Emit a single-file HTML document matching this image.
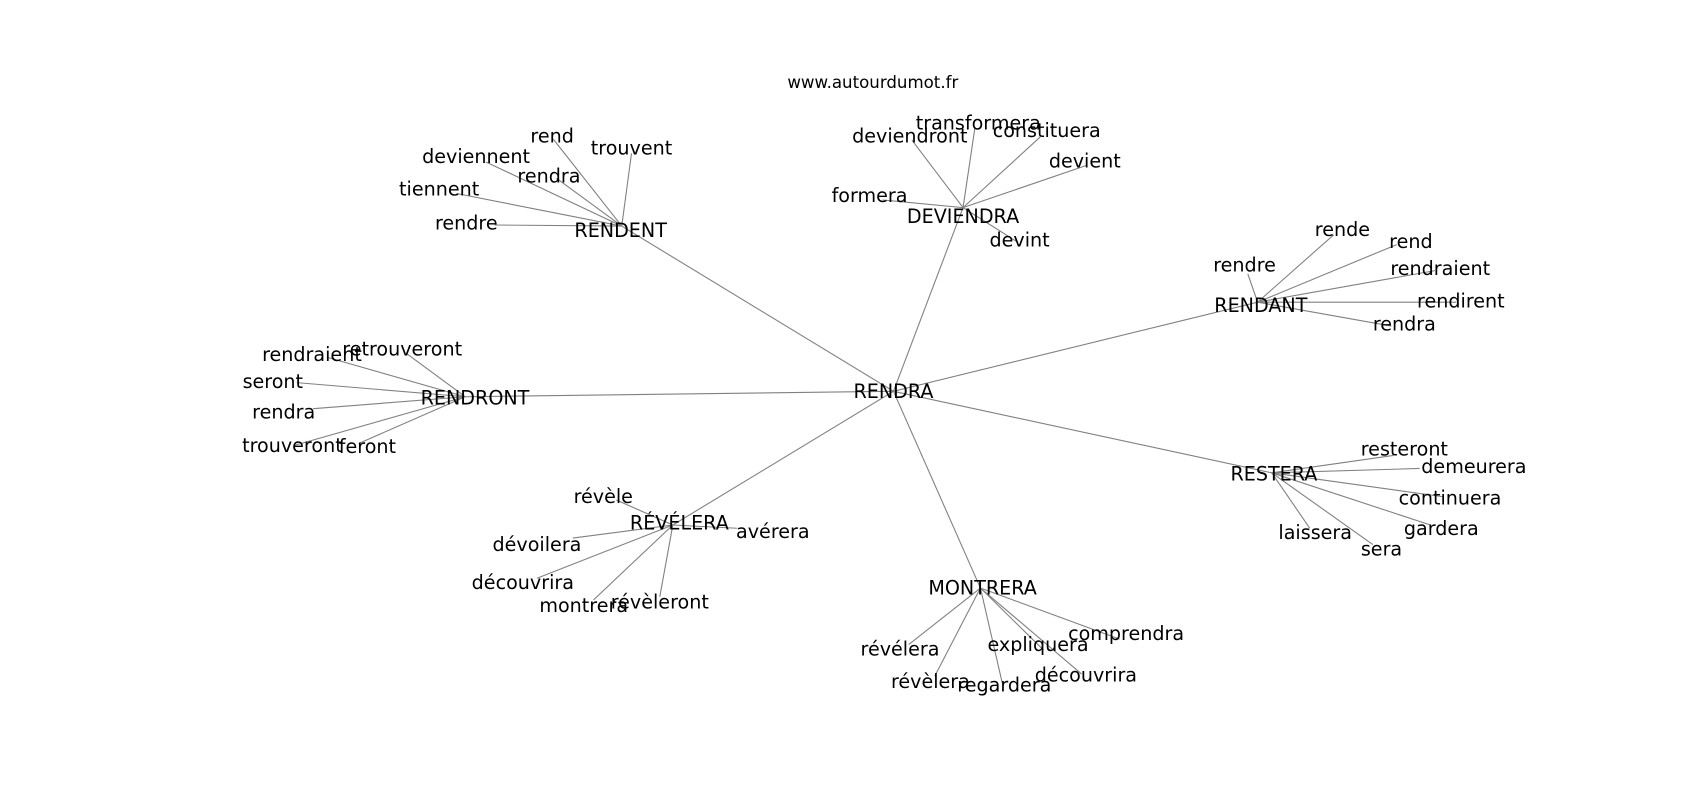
<!DOCTYPE html>
<html><head><meta charset="utf-8"><style>
html,body{margin:0;padding:0;background:#fff;width:1700px;height:800px;overflow:hidden}
svg{display:block}
text{font-family:"DejaVu Sans","Liberation Sans",sans-serif;fill:#000;text-anchor:middle;dominant-baseline:central}
line{stroke:#808080;stroke-width:1}
</style></head><body>
<svg width="1700" height="800" viewBox="0 0 1564 736" preserveAspectRatio="none">
<g>
<line x1="822" y1="360" x2="572" y2="208"/>
<line x1="822" y1="360" x2="886" y2="191"/>
<line x1="822" y1="360" x2="1157" y2="278"/>
<line x1="822" y1="360" x2="428" y2="365"/>
<line x1="822" y1="360" x2="619" y2="483"/>
<line x1="822" y1="360" x2="902" y2="541"/>
<line x1="822" y1="360" x2="1170" y2="435"/>
<line x1="572" y1="208" x2="509" y2="128"/>
<line x1="572" y1="208" x2="581" y2="141"/>
<line x1="572" y1="208" x2="447" y2="149"/>
<line x1="572" y1="208" x2="512" y2="164"/>
<line x1="572" y1="208" x2="420" y2="178"/>
<line x1="572" y1="208" x2="455" y2="207"/>
<line x1="886" y1="191" x2="839" y2="129"/>
<line x1="886" y1="191" x2="897" y2="117"/>
<line x1="886" y1="191" x2="957" y2="126"/>
<line x1="886" y1="191" x2="1000" y2="152"/>
<line x1="886" y1="191" x2="812" y2="184"/>
<line x1="886" y1="191" x2="935" y2="222"/>
<line x1="1157" y1="278" x2="1227" y2="216"/>
<line x1="1157" y1="278" x2="1285" y2="225"/>
<line x1="1157" y1="278" x2="1148" y2="252"/>
<line x1="1157" y1="278" x2="1320" y2="249"/>
<line x1="1157" y1="278" x2="1340" y2="278"/>
<line x1="1157" y1="278" x2="1280" y2="300"/>
<line x1="428" y1="365" x2="375" y2="326"/>
<line x1="428" y1="365" x2="302" y2="329"/>
<line x1="428" y1="365" x2="273" y2="352"/>
<line x1="428" y1="365" x2="288" y2="376"/>
<line x1="428" y1="365" x2="270" y2="410"/>
<line x1="428" y1="365" x2="330" y2="408"/>
<line x1="619" y1="483" x2="567" y2="460"/>
<line x1="619" y1="483" x2="678" y2="486"/>
<line x1="619" y1="483" x2="527" y2="495"/>
<line x1="619" y1="483" x2="494" y2="532"/>
<line x1="619" y1="483" x2="546" y2="552"/>
<line x1="619" y1="483" x2="607" y2="549"/>
<line x1="902" y1="541" x2="836" y2="593"/>
<line x1="902" y1="541" x2="860" y2="622"/>
<line x1="902" y1="541" x2="922" y2="628"/>
<line x1="902" y1="541" x2="960" y2="598"/>
<line x1="902" y1="541" x2="995" y2="620"/>
<line x1="902" y1="541" x2="1030" y2="588"/>
<line x1="1170" y1="435" x2="1282" y2="419"/>
<line x1="1170" y1="435" x2="1306" y2="431"/>
<line x1="1170" y1="435" x2="1328" y2="457"/>
<line x1="1170" y1="435" x2="1316" y2="483"/>
<line x1="1170" y1="435" x2="1263" y2="501"/>
<line x1="1170" y1="435" x2="1205" y2="486"/>
</g>
<g font-size="17.6">
<text x="822" y="360">RENDRA</text>
<text x="571" y="212">RENDENT</text>
<text x="886" y="199">DEVIENDRA</text>
<text x="1160" y="281">RENDANT</text>
<text x="437" y="366">RENDRONT</text>
<text x="625" y="481">RÉVÉLERA</text>
<text x="904" y="541">MONTRERA</text>
<text x="1172" y="436">RESTERA</text>

<text x="508" y="125">rend</text>
<text x="581" y="136">trouvent</text>
<text x="438" y="144">deviennent</text>
<text x="505" y="162">rendra</text>
<text x="404" y="174">tiennent</text>
<text x="429" y="205">rendre</text>

<text x="837" y="125">deviendront</text>
<text x="900" y="113">transformera</text>
<text x="963" y="120">constituera</text>
<text x="998" y="148">devient</text>
<text x="800" y="180">formera</text>
<text x="938" y="221">devint</text>

<text x="1235" y="211">rende</text>
<text x="1298" y="222">rend</text>
<text x="1145" y="244">rendre</text>
<text x="1325" y="247">rendraient</text>
<text x="1344" y="277">rendirent</text>
<text x="1292" y="298">rendra</text>

<text x="370" y="321">retrouveront</text>
<text x="287" y="326">rendraient</text>
<text x="251" y="351">seront</text>
<text x="261" y="379">rendra</text>
<text x="269" y="410">trouveront</text>
<text x="338" y="411">feront</text>

<text x="555" y="457">révèle</text>
<text x="711" y="489">avérera</text>
<text x="494" y="501">dévoilera</text>
<text x="481" y="536">découvrira</text>
<text x="537" y="557">montrera</text>
<text x="607" y="554">révèleront</text>

<text x="828" y="597">révélera</text>
<text x="856" y="627">révèlera</text>
<text x="924" y="630">regardera</text>
<text x="955" y="593">expliquera</text>
<text x="999" y="621">découvrira</text>
<text x="1036" y="583">comprendra</text>

<text x="1292" y="413">resteront</text>
<text x="1356" y="429">demeurera</text>
<text x="1334" y="458">continuera</text>
<text x="1326" y="486">gardera</text>
<text x="1271" y="505">sera</text>
<text x="1210" y="490">laissera</text>
</g>
<text x="803" y="76" font-size="15.3">www.autourdumot.fr</text>
</svg>
</body></html>
